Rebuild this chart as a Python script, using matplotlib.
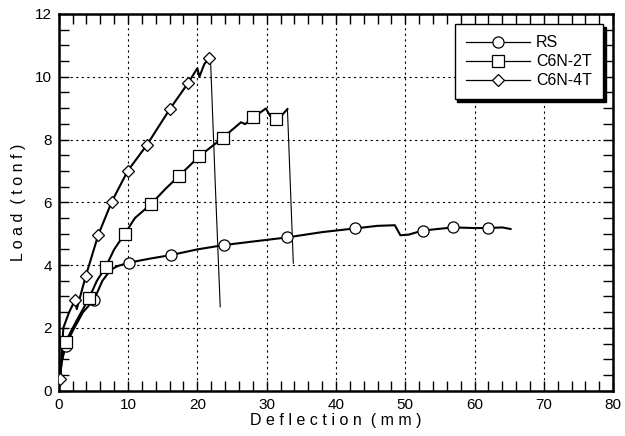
import matplotlib
matplotlib.use("Agg")
import matplotlib.pyplot as plt
from matplotlib.lines import Line2D
from matplotlib.ticker import MultipleLocator

plt.rcParams['font.family'] = ['Liberation Sans', 'DejaVu Sans']

# RS curve (deflection mm, load tonf)
rs_x = [0.0, 0.4, 1.0, 2.0, 3.5, 5.1, 6.3, 7.5, 8.5, 10.2, 13.0, 16.2, 20.0, 23.9, 28.0, 32.9, 38.0, 42.8, 46.0, 48.5, 49.3, 50.5, 52.5, 56.9, 60.0, 62.0, 64.0, 65.2]
rs_y = [0.0, 0.9, 1.43, 1.9, 2.5, 2.9, 3.5, 3.85, 3.97, 4.08, 4.2, 4.32, 4.5, 4.64, 4.75, 4.88, 5.05, 5.17, 5.25, 5.27, 4.95, 4.97, 5.1, 5.2, 5.18, 5.18, 5.2, 5.15]
rs_mx = [1.0, 5.1, 10.2, 16.2, 23.9, 32.9, 42.8, 52.5, 56.9, 62.0]
rs_my = [1.43, 2.9, 4.08, 4.32, 4.64, 4.88, 5.17, 5.1, 5.2, 5.18]
rs_drop = 0  # number of final points forming a failure drop

# C6N-2T curve
c2_x = [0.0, 0.4, 1.0, 2.5, 4.4, 5.5, 6.8, 8.0, 9.5, 11.0, 13.3, 15.5, 17.4, 20.3, 23.7, 26.3, 26.9, 28.1, 29.9, 30.5, 31.4, 32.3, 33.0, 33.85]
c2_y = [0.0, 0.9, 1.56, 2.2, 2.96, 3.5, 3.95, 4.5, 4.99, 5.5, 5.94, 6.45, 6.85, 7.47, 8.06, 8.55, 8.49, 8.71, 8.99, 8.75, 8.65, 8.8, 8.97, 4.06]
c2_mx = [1.0, 4.4, 6.8, 9.5, 13.3, 17.4, 20.3, 23.7, 28.1, 31.4]
c2_my = [1.56, 2.96, 3.95, 4.99, 5.94, 6.85, 7.47, 8.06, 8.71, 8.65]
c2_drop = 2

# C6N-4T curve
c4_x = [0.23, 0.66, 1.5, 2.35, 2.6, 3.9, 5.7, 7.65, 9.95, 12.7, 16.0, 18.7, 20.0, 20.3, 21.0, 21.7, 21.9, 22.6, 23.3]
c4_y = [0.37, 2.0, 2.5, 2.89, 2.6, 3.65, 4.96, 6.02, 7.0, 7.82, 8.96, 9.81, 10.27, 10.0, 10.4, 10.6, 10.55, 6.5, 2.67]
c4_mx = [0.23, 2.35, 3.9, 5.7, 7.65, 9.95, 12.7, 16.0, 18.7, 21.7]
c4_my = [0.37, 2.89, 3.65, 4.96, 6.02, 7.0, 7.82, 8.96, 9.81, 10.6]
c4_drop = 4

labels = ['RS', 'C6N-2T', 'C6N-4T']
markers = ['o', 's', 'D']
msizes = [8, 8, 6]

fig = plt.figure(figsize=(6.25, 4.36), dpi=100)
ax = fig.add_axes([0.094, 0.104, 0.887, 0.864])

curves = [(rs_x, rs_y, rs_mx, rs_my, rs_drop), (c2_x, c2_y, c2_mx, c2_my, c2_drop),
          (c4_x, c4_y, c4_mx, c4_my, c4_drop)]
handles = []
for (cx, cy, mx, my, nd), lab, mk, ms in zip(curves, labels, markers, msizes):
    n = len(cx) - nd + 1 if nd else len(cx)
    ax.plot(cx[:n], cy[:n], color='black', lw=1.5, zorder=3)
    if nd:
        ax.plot(cx[n - 1:], cy[n - 1:], color='black', lw=0.8, zorder=3)
    ax.plot(mx, my, ls='none', marker=mk, ms=ms, mfc='white', mec='black', mew=0.9, zorder=4)
    handles.append(Line2D([0], [0], color='black', lw=0.9, marker=mk, ms=ms, mfc='white', mec='black', mew=0.9))

ax.set_xlim(0, 80)
ax.set_ylim(0, 12)
ax.xaxis.set_major_locator(MultipleLocator(10))
ax.xaxis.set_minor_locator(MultipleLocator(2))
ax.yaxis.set_major_locator(MultipleLocator(2))
ax.yaxis.set_minor_locator(MultipleLocator(0.5))
ax.tick_params(which='both', direction='in', top=True, right=True, width=1.0, color='black')
ax.tick_params(which='major', length=7, labelsize=11, pad=5)
ax.tick_params(which='minor', length=7)
ax.grid(True, which='major', ls=(0, (2, 3)), color='black', lw=0.8)
for s in ax.spines.values():
    s.set_linewidth(1.8)

ax.set_xlabel('D e f l e c t i o n  ( m m )', fontsize=11.5, labelpad=1)
ax.set_ylabel('L o a d  ( t o n f )', fontsize=11.5, labelpad=6)

leg = ax.legend(handles, labels, loc='upper right', bbox_to_anchor=(0.982, 0.973),
                borderaxespad=0, fontsize=11.5, handlelength=4.0, numpoints=1,
                fancybox=False, shadow={'color': 'black', 'alpha': 1.0}, framealpha=1,
                edgecolor='black', labelspacing=0.25, borderpad=0.7, handletextpad=0.4)
leg.get_frame().set_linewidth(1.0)
leg.set_zorder(10)

fig.savefig('out.png', dpi=100)
